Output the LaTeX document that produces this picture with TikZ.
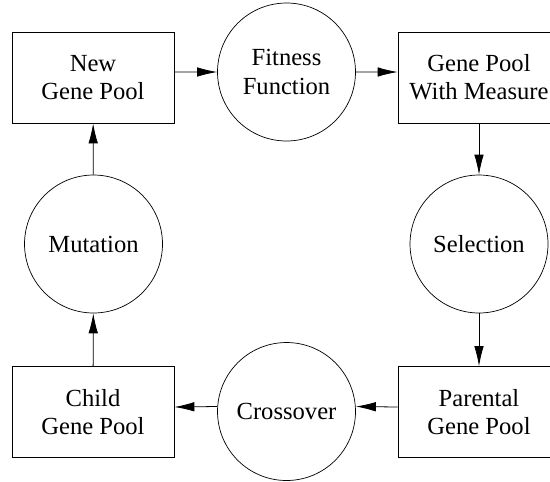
\documentclass[tikz,border=0pt]{standalone}
\usepackage{fontspec}
\setmainfont{Liberation Serif}
\usetikzlibrary{arrows.meta}

\begin{document}
\begin{tikzpicture}
		[x=0.02cm,y=-0.02cm,line width=0.45pt,
		every node/.style={draw,align=center,font=\fontsize{14}{16}\selectfont},
		pool/.style={rectangle,minimum width=3.24cm,minimum height=1.82cm,inner sep=0pt},
		op/.style={circle,minimum size=2.76cm,inner sep=0pt,line width=0.4pt},
		edge/.style={-{Latex[length=4mm,width=1.9mm]}}]
		\useasboundingbox (0,0) rectangle (550,481);
		\node[pool] (ngp) at (93,77.5) {New\\Gene Pool};
		\node[op] (fit) at (286.5,72) {Fitness\\Function};
		\node[pool] (gpm) at (479,77.5) {Gene Pool\\With Measure};
		\node[op] (sel) at (479,244) {Selection};
		\node[pool] (pgp) at (479,412) {Parental\\Gene Pool};
		\node[op] (cro) at (286.5,411.5) {Crossover};
		\node[pool] (cgp) at (93,412) {Child\\Gene Pool};
		\node[op] (mut) at (93.5,244) {Mutation};
		
		\draw[edge] ([yshift=0.11cm]ngp.east) -- (fit.west);
		\draw[edge] (fit.east) -- ([yshift=0.11cm]gpm.west);
		\draw[edge] ([yshift=0.1cm]pgp.west) -- ([yshift=0.1cm]cro.east);
		\draw[edge] ([yshift=0.1cm]cro.west) -- ([yshift=0.1cm]cgp.east);
		\foreach \from/\to in {gpm/sel,sel/pgp,cgp/mut,mut/ngp}
		\draw[edge] (\from) -- (\to);
		\end{tikzpicture}
\end{document}
